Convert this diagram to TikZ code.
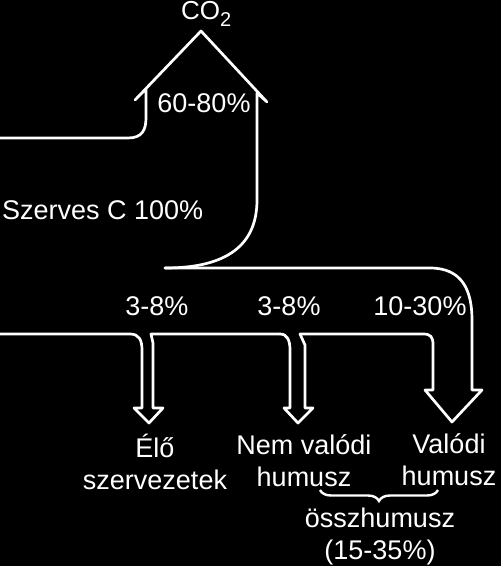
\documentclass[tikz,border=0pt]{standalone}
\usepackage{fontspec}
\setmainfont{Liberation Sans}
\usetikzlibrary{positioning,decorations.pathreplacing}
\tikzset{
  flow/.style={draw=white,line width=2.7pt,line cap=round,line join=round},
  lbl/.style={text=white,font=\fontsize{27}{32}\selectfont,inner sep=0pt},
  brace/.style={draw=white,line width=2.4pt,decorate,
    decoration={brace,mirror,amplitude=11pt}}
}
\begin{document}
\begin{tikzpicture}\begin{scope}[x=1pt,y=-1pt]
    \fill[black] (0,0) rectangle (501,566);
    \useasboundingbox (0,0) rectangle (501,566);
%   upper edge of the input, then the CO2 arrow
    \draw[flow] (0,138)--++(128,0) coordinate (a1)
    .. controls +(14,0) and +(0,12) .. (146,118) coordinate (a2)
    --++(0,-29) coordinate (a3)
    --++(-11,11) coordinate (a4)
    --(201,31) coordinate (co2tip)
    --(267,102) coordinate (a6)
    --++(-10,-9) coordinate (a7)
    --++(0,107) coordinate (a8)
    .. controls +(0,50) and +(55,0) .. (165,268) coordinate (split);
%   branch to valodi humusz
    \draw[flow] (split)--(430,268) coordinate (b1)
    .. controls +(32,0) and +(0,-30) .. (472,320) coordinate (b2)
    --++(0,70) coordinate (b3)
    --++(10,0) coordinate (b4)
    --(452,422) coordinate (valtip)
    --(425,390) coordinate (b6)
    --++(8,0) coordinate (b7)
    --++(0,-45) coordinate (b8)
    .. controls +(0,-8) and +(8,0) .. (423,334) coordinate (b9)
    --(300,334) coordinate (c1);
%   nem valodi humusz
    \draw[flow] (c1)--++(5,11) coordinate (c2)
    --++(0,63) coordinate (c3)
    --++(8,0) coordinate (c4)
    --(298,423) coordinate (nemtip)
    --(284,408) coordinate (c6)
    --++(6,0) coordinate (c7)
    --++(0,-58) coordinate (c8)
    .. controls +(0,-10) and +(7,0) .. (280,334) coordinate (d1);
%   elo szervezetek, then the lower edge of the input
    \draw[flow] (d1)--(151,334) coordinate (d2)
    --++(2,9) coordinate (d3)
    --++(0,65) coordinate (d4)
    --++(10,0) coordinate (d5)
    --(149,423) coordinate (elotip)
    --(134,408) coordinate (d7)
    --++(8,0) coordinate (d8)
    --++(0,-58) coordinate (d9)
    .. controls +(0,-10) and +(9,0) .. (130,334)
    --(0,334);
%   labels
    \node[text=white,font=\fontsize{26}{26}\selectfont,inner sep=0pt,
      anchor=base west] (co2) at (181,19)
      {CO\raisebox{-7pt}{\fontsize{20}{20}\selectfont 2}};
    \node[lbl,anchor=base] (pctco2) at (204,112) {60-80\%};
    \node[lbl,anchor=base west] (szerves) at (2,219) {Szerves C 100\%};
    \node[lbl,anchor=base] (pctelo) at (157,315) {3-8\%};
    \node[lbl,anchor=base] (pctnem) at (289,315) {3-8\%};
    \node[lbl,anchor=base] (pctval) at (420,315) {10-30\%};
    \node[lbl,align=center,below=11pt of elotip,xshift=6pt] (elo) {Élő\\szervezetek};
    \node[lbl,align=center,below=11pt of nemtip,xshift=6pt] (nemvalodi) {Nem valódi\\humusz};
    \node[lbl,align=center,below=11pt of valtip,xshift=-3pt] (valodi) {Valódi\\humusz};
    \draw[brace] (320,490) coordinate (br1)--(438,490) coordinate (br2);
    \node[lbl,align=center,anchor=north] (ossz) at (380,508) {összhumusz\\(15-35\%)};
\end{scope}\end{tikzpicture}
\end{document}
